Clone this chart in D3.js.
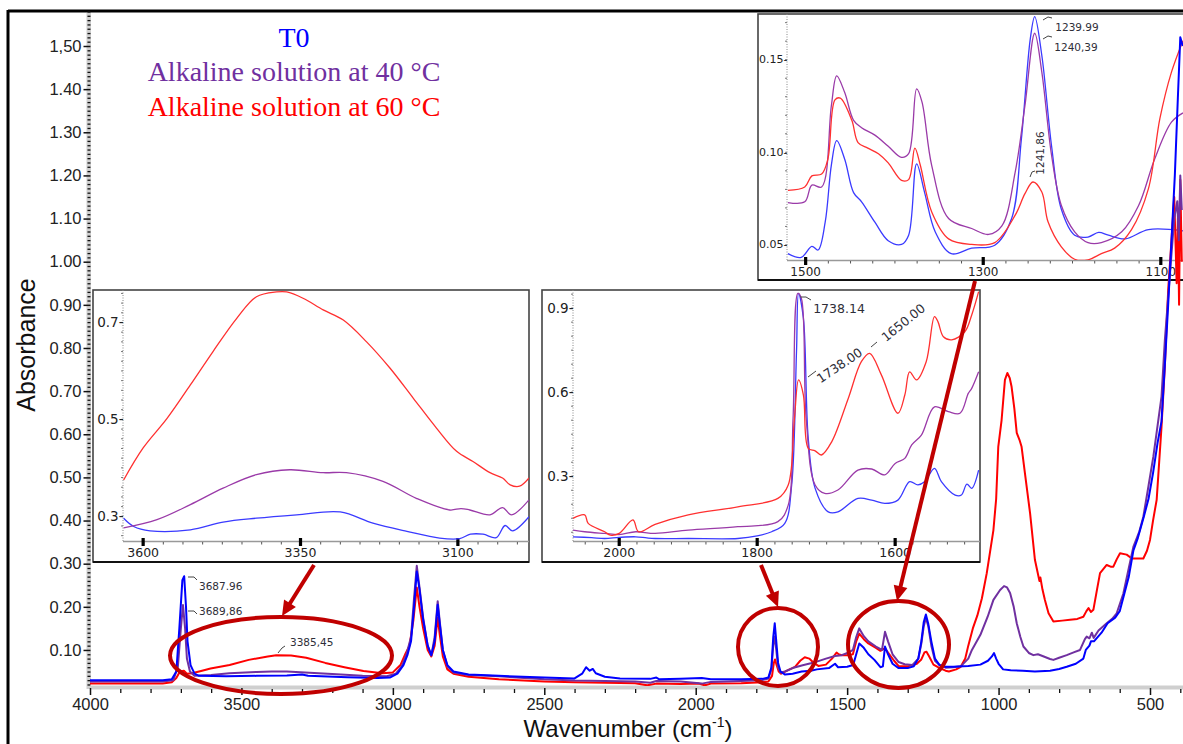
<!DOCTYPE html>
<html>
<head>
<meta charset="utf-8">
<script src="https://cdn.jsdelivr.net/npm/d3@7"></script>
<style>
html,body{margin:0;padding:0;background:#fff;}
svg{display:block;}
</style>
</head>
<body>
<svg id="chart" width="1183" height="744"></svg>
<script>
// ---------------- DATA ----------------
const legendLabels = ["T0", "Alkaline solution at 40 °C", "Alkaline solution at 60 °C"];
const xTickValues = [4000, 3500, 3000, 2500, 2000, 1500, 1000, 500];
const yTickValues = [0.10,0.20,0.30,0.40,0.50,0.60,0.70,0.80,0.90,1.00,1.10,1.20,1.30,1.40,1.50];
const yTickLabels = ["0.10","0.20","0.30","0.40","0.50","0.60","0.70","0.80","0.90","1.00","1.10","1.20","1.30","1.40","1,50"];

// main spectra [wavenumber, absorbance]
const mainT0 = [[4000,0.030],[3760,0.030],[3730,0.032],[3715,0.05],[3705,0.15],[3695,0.262],[3689,0.271],[3683,0.2],[3678,0.12],[3668,0.065],[3655,0.045],[3640,0.040],[3550,0.039],[3450,0.040],[3350,0.041],[3300,0.043],[3280,0.040],[3150,0.037],[3050,0.035],[3010,0.036],[2985,0.045],[2965,0.065],[2952,0.088],[2940,0.12],[2930,0.2],[2921,0.282],[2912,0.24],[2900,0.17],[2885,0.11],[2873,0.088],[2862,0.12],[2852,0.205],[2845,0.16],[2835,0.1],[2820,0.065],[2800,0.05],[2750,0.043],[2650,0.04],[2500,0.036],[2400,0.034],[2375,0.045],[2362,0.06],[2350,0.052],[2340,0.056],[2330,0.046],[2300,0.038],[2250,0.034],[2150,0.033],[2130,0.036],[2120,0.032],[2050,0.033],[1980,0.035],[1950,0.032],[1850,0.032],[1780,0.033],[1760,0.036],[1750,0.06],[1744,0.13],[1739,0.162],[1734,0.12],[1728,0.07],[1720,0.05],[1705,0.043],[1680,0.045],[1650,0.05],[1620,0.052],[1600,0.055],[1560,0.058],[1540,0.068],[1530,0.06],[1500,0.061],[1480,0.065],[1470,0.09],[1460,0.115],[1445,0.105],[1430,0.09],[1410,0.077],[1390,0.06],[1382,0.062],[1375,0.108],[1365,0.09],[1350,0.068],[1330,0.058],[1300,0.058],[1280,0.062],[1265,0.08],[1255,0.12],[1247,0.165],[1240,0.182],[1232,0.16],[1222,0.12],[1210,0.08],[1195,0.065],[1175,0.061],[1150,0.061],[1100,0.063],[1060,0.066],[1035,0.075],[1022,0.085],[1015,0.093],[1008,0.08],[1000,0.068],[985,0.055],[960,0.053],[920,0.052],[880,0.05],[830,0.052],[800,0.056],[775,0.061],[745,0.068],[720,0.08],[712,0.1],[700,0.11],[695,0.12],[685,0.12],[660,0.14],[640,0.162],[615,0.175],[600,0.19],[585,0.23],[570,0.27],[555,0.33],[540,0.36],[520,0.41],[505,0.45],[490,0.51],[475,0.58],[462,0.63],[451,0.76],[440,0.9],[429,1.05],[418,1.2],[408,1.38],[400,1.52],[392,1.5]];

const main40 = [[4000,0.027],[3760,0.027],[3725,0.03],[3710,0.06],[3700,0.15],[3693,0.204],[3686,0.15],[3680,0.08],[3670,0.05],[3655,0.04],[3600,0.042],[3540,0.046],[3450,0.049],[3400,0.05],[3350,0.05],[3290,0.048],[3200,0.044],[3100,0.04],[3020,0.039],[2990,0.045],[2970,0.063],[2955,0.09],[2940,0.13],[2930,0.22],[2921,0.295],[2912,0.245],[2900,0.175],[2885,0.11],[2873,0.087],[2862,0.13],[2852,0.213],[2845,0.165],[2835,0.1],[2820,0.062],[2800,0.048],[2750,0.042],[2650,0.039],[2500,0.032],[2400,0.029],[2300,0.028],[2200,0.027],[2150,0.024],[2130,0.028],[2050,0.027],[1980,0.022],[1950,0.026],[1850,0.028],[1780,0.03],[1760,0.034],[1750,0.055],[1744,0.11],[1739,0.131],[1734,0.1],[1728,0.06],[1720,0.048],[1705,0.05],[1680,0.058],[1650,0.064],[1620,0.069],[1600,0.073],[1570,0.08],[1540,0.086],[1518,0.088],[1495,0.094],[1481,0.1],[1470,0.13],[1460,0.15],[1445,0.132],[1430,0.12],[1405,0.108],[1385,0.1],[1375,0.142],[1365,0.12],[1350,0.09],[1330,0.072],[1310,0.067],[1285,0.065],[1265,0.08],[1255,0.115],[1247,0.155],[1240,0.174],[1232,0.155],[1222,0.11],[1210,0.075],[1195,0.065],[1175,0.059],[1150,0.06],[1125,0.062],[1100,0.08],[1088,0.1],[1060,0.135],[1036,0.177],[1017,0.216],[995,0.239],[982,0.248],[972,0.245],[962,0.232],[950,0.2],[940,0.162],[928,0.13],[918,0.108],[900,0.093],[885,0.088],[870,0.09],[855,0.086],[830,0.079],[819,0.077],[800,0.082],[775,0.088],[750,0.095],[731,0.1],[715,0.125],[709,0.131],[700,0.127],[692,0.14],[686,0.128],[670,0.145],[643,0.162],[625,0.172],[610,0.185],[588,0.231],[570,0.29],[555,0.339],[535,0.375],[522,0.409],[505,0.48],[489,0.548],[475,0.62],[462,0.687],[451,0.818],[434,0.973],[420,1.1],[410,1.14],[405,1.05],[400,1.2],[395,1.12]];

const main60 = [[4000,0.022],[3760,0.022],[3730,0.025],[3715,0.035],[3703,0.05],[3690,0.052],[3680,0.045],[3663,0.046],[3630,0.052],[3602,0.057],[3539,0.065],[3476,0.077],[3413,0.085],[3385,0.088],[3336,0.087],[3286,0.082],[3223,0.07],[3160,0.06],[3097,0.051],[3034,0.046],[3000,0.048],[2975,0.065],[2958,0.092],[2945,0.11],[2932,0.17],[2921,0.245],[2912,0.2],[2900,0.15],[2885,0.1],[2873,0.085],[2862,0.11],[2852,0.175],[2845,0.135],[2835,0.085],[2820,0.055],[2800,0.045],[2750,0.038],[2650,0.032],[2500,0.027],[2400,0.025],[2300,0.024],[2200,0.023],[2160,0.018],[2130,0.022],[2050,0.021],[1990,0.022],[1970,0.018],[1950,0.022],[1850,0.023],[1780,0.025],[1760,0.027],[1748,0.04],[1742,0.07],[1738,0.078],[1733,0.065],[1726,0.05],[1718,0.045],[1705,0.05],[1690,0.055],[1672,0.061],[1655,0.075],[1640,0.083],[1625,0.08],[1610,0.07],[1595,0.063],[1570,0.066],[1550,0.08],[1535,0.094],[1528,0.09],[1518,0.088],[1495,0.088],[1481,0.09],[1470,0.12],[1460,0.138],[1445,0.125],[1430,0.115],[1405,0.105],[1390,0.098],[1375,0.104],[1365,0.094],[1345,0.075],[1329,0.062],[1300,0.062],[1270,0.068],[1255,0.078],[1245,0.094],[1238,0.096],[1230,0.086],[1215,0.066],[1200,0.06],[1175,0.052],[1164,0.05],[1140,0.055],[1125,0.061],[1110,0.08],[1100,0.11],[1085,0.15],[1070,0.18],[1055,0.22],[1039,0.278],[1017,0.378],[1008,0.45],[1001,0.571],[990,0.633],[979,0.726],[971,0.742],[963,0.73],[957,0.71],[948,0.66],[940,0.603],[930,0.585],[924,0.571],[913,0.51],[896,0.417],[880,0.309],[865,0.26],[862,0.268],[855,0.24],[847,0.216],[835,0.185],[819,0.166],[790,0.168],[764,0.17],[740,0.172],[720,0.177],[710,0.19],[703,0.197],[695,0.188],[687,0.193],[675,0.24],[665,0.278],[643,0.297],[630,0.293],[621,0.293],[610,0.31],[599,0.324],[577,0.321],[560,0.312],[544,0.312],[522,0.312],[510,0.33],[500,0.355],[490,0.4],[478,0.448],[462,0.617],[451,0.757],[440,0.934],[429,1.05],[420,1.15],[412,0.95],[408,1.1],[404,0.9],[400,1.19],[395,1.0]];

// inset 1 (3630-2987 cm-1)
const in1T0 = [[3631,0.295],[3615,0.278],[3589,0.269],[3525,0.271],[3473,0.287],[3420,0.295],[3356,0.302],[3287,0.308],[3235,0.285],[3181,0.268],[3129,0.254],[3097,0.253],[3080,0.262],[3060,0.262],[3039,0.255],[3025,0.280],[3013,0.269],[2987,0.298]];
const in140 = [[3631,0.275],[3578,0.292],[3525,0.323],[3473,0.357],[3420,0.385],[3367,0.395],[3314,0.389],[3277,0.389],[3219,0.371],[3166,0.336],[3113,0.312],[3095,0.315],[3081,0.312],[3049,0.302],[3029,0.317],[3015,0.302],[2987,0.333]];
const in160 = [[3631,0.374],[3600,0.440],[3562,0.501],[3525,0.570],[3489,0.639],[3451,0.708],[3420,0.752],[3388,0.762],[3372,0.762],[3346,0.749],[3314,0.725],[3282,0.704],[3245,0.659],[3208,0.605],[3171,0.543],[3134,0.481],[3102,0.433],[3076,0.412],[3049,0.389],[3029,0.378],[3017,0.364],[3002,0.361],[2987,0.378]];

// inset 2 (2067-1477 cm-1)
const in2T0 = [[2067,0.082],[2040,0.079],[2021,0.076],[2000,0.08],[1976,0.082],[1960,0.078],[1948,0.076],[1900,0.076],[1828,0.076],[1800,0.085],[1779,0.1],[1760,0.13],[1750,0.267],[1743,0.743],[1740,0.951],[1733,0.862],[1726,0.434],[1716,0.255],[1697,0.171],[1683,0.171],[1654,0.219],[1634,0.213],[1615,0.201],[1596,0.213],[1579,0.279],[1567,0.267],[1557,0.279],[1543,0.326],[1533,0.279],[1513,0.231],[1504,0.231],[1496,0.270],[1489,0.255],[1479,0.320]];
const in240 = [[2067,0.106],[2050,0.1],[2021,0.094],[2000,0.09],[1976,0.1],[1948,0.094],[1900,0.106],[1828,0.118],[1770,0.136],[1755,0.195],[1748,0.505],[1741,0.951],[1736,0.934],[1729,0.505],[1716,0.267],[1702,0.237],[1683,0.249],[1654,0.320],[1634,0.324],[1615,0.303],[1600,0.344],[1586,0.362],[1576,0.410],[1562,0.445],[1543,0.546],[1523,0.529],[1506,0.523],[1494,0.594],[1489,0.612],[1479,0.671]];
const in260 = [[2067,0.148],[2050,0.160],[2045,0.130],[2021,0.100],[2013,0.088],[2000,0.094],[1980,0.142],[1972,0.100],[1948,0.126],[1900,0.160],[1828,0.189],[1770,0.219],[1755,0.267],[1746,0.505],[1740,0.642],[1733,0.588],[1726,0.398],[1716,0.389],[1707,0.374],[1692,0.421],[1668,0.576],[1649,0.707],[1637,0.737],[1620,0.660],[1596,0.523],[1586,0.588],[1579,0.671],[1569,0.642],[1555,0.707],[1543,0.868],[1538,0.850],[1530,0.796],[1518,0.785],[1499,0.814],[1489,0.874],[1479,0.957]];

// inset 3 (1521-1075 cm-1)
const in3T0 = [[1520,0.045],[1505,0.043],[1493,0.049],[1486,0.047],[1478,0.062],[1471,0.093],[1465,0.106],[1456,0.096],[1446,0.078],[1437,0.073],[1422,0.062],[1407,0.052],[1392,0.050],[1384,0.055],[1375,0.0935],[1366,0.078],[1354,0.0567],[1336,0.045],[1313,0.048],[1287,0.0496],[1268,0.064],[1257,0.107],[1247,0.161],[1242,0.173],[1234,0.152],[1223,0.103],[1212,0.069],[1197,0.055],[1182,0.054],[1170,0.0565],[1159,0.055],[1140,0.053],[1114,0.058],[1075,0.0573]];
const in340 = [[1520,0.0726],[1501,0.073],[1493,0.082],[1482,0.081],[1471,0.125],[1465,0.141],[1456,0.132],[1446,0.117],[1437,0.113],[1422,0.109],[1407,0.103],[1392,0.097],[1384,0.099],[1375,0.134],[1369,0.127],[1358,0.0926],[1339,0.064],[1313,0.0586],[1294,0.0554],[1279,0.060],[1264,0.089],[1253,0.125],[1242,0.164],[1234,0.143],[1223,0.098],[1212,0.071],[1197,0.0568],[1182,0.051],[1167,0.051],[1144,0.0568],[1125,0.071],[1107,0.096],[1088,0.116],[1075,0.121]];
const in360 = [[1520,0.0792],[1501,0.081],[1493,0.087],[1482,0.088],[1475,0.096],[1467,0.128],[1461,0.129],[1448,0.117],[1441,0.105],[1430,0.102],[1418,0.099],[1407,0.094],[1392,0.0846],[1384,0.085],[1377,0.102],[1371,0.093],[1358,0.0675],[1339,0.053],[1313,0.050],[1287,0.051],[1264,0.0658],[1253,0.0774],[1244,0.0837],[1234,0.0783],[1227,0.0622],[1212,0.0487],[1197,0.042],[1182,0.0417],[1167,0.045],[1152,0.048],[1133,0.058],[1114,0.080],[1101,0.118],[1088,0.143],[1075,0.160]];

// ---------------- DRAW ----------------
const svg = d3.select("#chart");
const sans = "'Liberation Sans', Arial, sans-serif";
const tah = "'DejaVu Sans', Verdana, sans-serif";
const C_BLUE = "#0000ff", C_PURP = "#7030a0", C_RED = "#ff0000";
const DARKRED = "#c00000";

svg.append("rect").attr("width",1183).attr("height",744).attr("fill","#fff");

// main scales
const x = d3.scaleLinear().domain([4000, 500]).range([90, 1150]);
const y = d3.scaleLinear().domain([0, 1.5]).range([693.1, 46]);

// frame
svg.append("line").attr("x1",8).attr("x2",8).attr("y1",10).attr("y2",744).attr("stroke","#000").attr("stroke-width",3);
svg.append("line").attr("x1",8).attr("x2",1183).attr("y1",11).attr("y2",11).attr("stroke","#000").attr("stroke-width",3);

// main y axis
svg.append("rect").attr("x",86.5).attr("y",13).attr("width",4.5).attr("height",676).attr("fill","#cfcfcf");
const yMinor = d3.range(2, 159).map(d => d/100).filter(v => Math.round(v*100)%10 !== 0);
svg.append("g").attr("transform","translate(90.5,0)")
  .call(d3.axisLeft(y).tickValues(yMinor).tickSize(3).tickFormat(""))
  .call(g => g.select(".domain").remove())
  .call(g => g.selectAll("line").attr("stroke","#111").attr("stroke-width",1.3));
const yAx = svg.append("g").attr("transform","translate(90.5,0)")
  .call(d3.axisLeft(y).tickValues(yTickValues).tickSize(7).tickPadding(2).tickFormat((d,i)=>yTickLabels[i]));
yAx.select(".domain").remove();
yAx.selectAll("line").attr("stroke","#111").attr("stroke-width",1.5);
yAx.selectAll("text").attr("font-family",sans).attr("font-size",16.5).attr("fill","#222");

// main x axis
svg.append("rect").attr("x",90).attr("y",685.5).attr("width",1093).attr("height",4).attr("fill","#cfcfcf");
const xMinor = d3.range(4000, 390, -100).filter(v => v % 500 !== 0);
svg.append("g").attr("transform","translate(0,689)")
  .call(d3.axisBottom(x).tickValues(xMinor).tickSize(4).tickFormat(""))
  .call(g => g.select(".domain").remove())
  .call(g => g.selectAll("line").attr("stroke","#111").attr("stroke-width",1.3));
const xAx = svg.append("g").attr("transform","translate(0,688)")
  .call(d3.axisBottom(x).tickValues(xTickValues).tickSize(7).tickPadding(3).tickFormat(d3.format("d")));
xAx.select(".domain").remove();
xAx.selectAll("line").attr("stroke","#111").attr("stroke-width",1.5);
xAx.selectAll("text").attr("font-family",sans).attr("font-size",16.5).attr("fill","#222");

// axis titles
svg.append("text").attr("transform","translate(35,345) rotate(-90)").attr("text-anchor","middle")
  .attr("font-family",sans).attr("font-size",25).attr("fill","#111").text("Absorbance");
const xt = svg.append("text").attr("x",628).attr("y",737).attr("text-anchor","middle")
  .attr("font-family",sans).attr("font-size",24).attr("fill","#111");
xt.append("tspan").text("Wavenumber (cm");
xt.append("tspan").attr("font-size",14).attr("dy",-10).text("-1");
xt.append("tspan").attr("dy",10).text(")");

// ---------------- INSETS ----------------
function drawInset(cfg){
  const g = svg.append("g");
  g.append("rect").attr("x",cfg.box[0]).attr("y",cfg.box[1]).attr("width",cfg.box[2]-cfg.box[0]).attr("height",cfg.box[3]-cfg.box[1])
    .attr("fill","#fff").attr("stroke","#444").attr("stroke-width",1.6);
  g.append("line").attr("x1",cfg.box[0]).attr("x2",cfg.box[2]).attr("y1",cfg.box[3]).attr("y2",cfg.box[3]).attr("stroke","#111").attr("stroke-width",2);
  const xs = d3.scaleLinear().domain(cfg.xd).range([cfg.px0, cfg.px1]);
  const ys = d3.scaleLinear().domain(cfg.yd).range([cfg.py1, cfg.py0]);
  const id = "clip" + cfg.name;
  svg.append("clipPath").attr("id",id).append("rect").attr("x",cfg.px0).attr("y",cfg.py0).attr("width",cfg.px1-cfg.px0).attr("height",cfg.py1-cfg.py0);
  // y axis dotted
  g.append("line").attr("x1",cfg.px0).attr("x2",cfg.px0).attr("y1",cfg.py0).attr("y2",cfg.py1)
    .attr("stroke","#888").attr("stroke-width",1).attr("stroke-dasharray","1,1.5");
  // y minor ticks
  const yMin = d3.range(Math.ceil(cfg.yd[0]/cfg.yMinorStep)*cfg.yMinorStep, cfg.yd[1], cfg.yMinorStep);
  g.append("g").attr("transform",`translate(${cfg.px0},0)`)
    .call(d3.axisLeft(ys).tickValues(yMin).tickSize(2).tickFormat(""))
    .call(a => a.select(".domain").remove())
    .call(a => a.selectAll("line").attr("stroke","#777"));
  // x axis line
  g.append("line").attr("x1",cfg.px0).attr("x2",cfg.px1).attr("y1",cfg.py1+0.5).attr("y2",cfg.py1+0.5)
    .attr("stroke","#999").attr("stroke-width",1.5);
  const minor = d3.range(cfg.minorStart, cfg.xd[1]-1, -cfg.minorStep);
  g.append("g").attr("transform",`translate(0,${cfg.py1+1})`)
    .call(d3.axisBottom(xs).tickValues(minor.filter(v=>v<=cfg.xd[0])).tickSize(2.5).tickFormat(""))
    .call(a => a.select(".domain").remove())
    .call(a => a.selectAll("line").attr("stroke","#555"));
  // major ticks as black bars
  g.selectAll(".maj").data(cfg.xt).enter().append("rect")
    .attr("x", d => xs(d)-1.6).attr("y", cfg.py1-3).attr("width",3.2).attr("height",8).attr("fill","#000");
  g.selectAll(".xl").data(cfg.xt).enter().append("text")
    .attr("x", d => xs(d)).attr("y", cfg.py1+16).attr("text-anchor","middle")
    .attr("font-family",tah).attr("font-size",cfg.xfs).attr("fill","#222").text(d => d);
  g.selectAll(".yl").data(cfg.yt).enter().append("text")
    .attr("x", cfg.px0+0.5).attr("y", d => ys(d)).attr("dy","0.36em").attr("text-anchor","end")
    .attr("font-family",tah).attr("font-size",cfg.yfs).attr("fill","#222").text((d,i)=>cfg.ytl[i]+"-");
  const line = d3.line().x(d => xs(d[0])).y(d => ys(d[1])).curve(d3.curveCatmullRom.alpha(0.5));
  const lg = g.append("g").attr("clip-path",`url(#${id})`);
  cfg.series.forEach(s => {
    lg.append("path").attr("d", line(s.data)).attr("fill","none").attr("stroke", s.color).attr("stroke-width",1.3).attr("stroke-linejoin","round");
  });
  return {g, xs, ys};
}

const inset1 = drawInset({name:"i1", box:[93,290,529,562], px0:123, px1:529, py0:290, py1:541,
  xd:[3632,2987], yd:[0.248,0.766], xt:[3600,3350,3100], yt:[0.7,0.5,0.3], ytl:["0.7","0.5","0.3"],
  minorStart:3600, minorStep:31.25, yMinorStep:0.02, xfs:12.5, yfs:13.5,
  series:[{data:in1T0,color:"#3a3aff"},{data:in140,color:"#9a3aa8"},{data:in160,color:"#ff3030"}]});

const inset2 = drawInset({name:"i2", box:[542,290,980,562], px0:573, px1:980, py0:290, py1:541,
  xd:[2067,1477], yd:[0.067,0.963], xt:[2000,1800,1600], yt:[0.9,0.6,0.3], ytl:["0.9","0.6","0.3"],
  minorStart:2050, minorStep:25, yMinorStep:0.05, xfs:12.5, yfs:13.5,
  series:[{data:in2T0,color:"#3a3aff"},{data:in240,color:"#9a3aa8"},{data:in260,color:"#ff3030"}]});

const inset3 = drawInset({name:"i3", box:[758,14,1195,280], px0:787, px1:1183, py0:14, py1:260,
  xd:[1521,1075], yd:[0.0416,0.1744], xt:[1500,1300,1100], yt:[0.15,0.10,0.05], ytl:["0.15","0.10","0.05"],
  minorStart:1500, minorStep:25, yMinorStep:0.01, xfs:12, yfs:11,
  series:[{data:in3T0,color:"#3a3aff"},{data:in340,color:"#9a3aa8"},{data:in360,color:"#ff3030"}]});

// inset annotations
function note(g, txt, tx, ty, rot, fs, leader){
  g.append("text").attr("transform",`translate(${tx},${ty}) rotate(${rot})`).attr("text-anchor","middle")
    .attr("font-family",tah).attr("font-size",fs).attr("fill","#2e2e38").text(txt);
  if (leader) g.append("path").attr("d",leader).attr("fill","none").attr("stroke","#444").attr("stroke-width",1);
}
note(inset2.g, "1738.14", 839, 313, 0, 12.5, "M800,297 L806,297 L811,300");
note(inset2.g, "1738.00", 842, 369, -34, 12.5, "M808,377 L816,371");
note(inset2.g, "1650.00", 906, 326, -39, 12.5, "M871,347 L877,342");
note(inset3.g, "1239.99", 1077, 31, 0, 10.5, "M1043,20 L1048,17 L1052,18");
note(inset3.g, "1240,39", 1076, 51, 0, 10.5, "M1043,39 L1048,36 L1052,37");
note(inset3.g, "1241,86", 1044, 153, -90, 10.5, "M1030,177 L1032,172 L1035,171");

// ---------------- MAIN CURVES ----------------
svg.append("clipPath").attr("id","mainclip").append("rect").attr("x",90).attr("y",13).attr("width",1093).attr("height",673);
const mline = d3.line().x(d => x(d[0])).y(d => y(d[1]));
const mg = svg.append("g").attr("clip-path","url(#mainclip)");
[[main60,C_RED],[main40,C_PURP],[mainT0,C_BLUE]].forEach(([d,c]) => {
  mg.append("path").attr("d", mline(d)).attr("fill","none").attr("stroke",c).attr("stroke-width",2).attr("stroke-linejoin","round");
});

// main annotations
function mnote(txt, tx, ty, leader){
  svg.append("text").attr("x",tx).attr("y",ty).attr("font-family",tah).attr("font-size",10.5).attr("fill","#2e2e38").text(txt);
  svg.append("path").attr("d",leader).attr("fill","none").attr("stroke","#444").attr("stroke-width",1);
}
mnote("3687.96", 199, 590, "M188,577 L194,577 L197,580");
mnote("3689,86", 199, 615, "M188,611 L194,611 L197,614");
mnote("3385,45", 290, 646, "M278,653 L282,648 L285,646");

// ---------------- ELLIPSES & ARROWS ----------------
const ell = [{cx:281,cy:655.5,rx:111,ry:38.5},{cx:778,cy:647,rx:40,ry:39},{cx:898.5,cy:644.5,rx:50.5,ry:43.5}];
svg.selectAll(".ell").data(ell).enter().append("ellipse")
  .attr("cx",d=>d.cx).attr("cy",d=>d.cy).attr("rx",d=>d.rx).attr("ry",d=>d.ry)
  .attr("fill","none").attr("stroke",DARKRED).attr("stroke-width",4);

const arrows = [[314,565,282,616],[761,565,778,607],[975,281,897,601]];
arrows.forEach(([x1,y1,x2,y2]) => {
  const dx = x2-x1, dy = y2-y1, L = Math.hypot(dx,dy), ux = dx/L, uy = dy/L;
  const hl = 15, hw = 7;
  const bx = x2 - ux*hl, by = y2 - uy*hl;
  svg.append("line").attr("x1",x1).attr("y1",y1).attr("x2",bx+ux*2).attr("y2",by+uy*2)
    .attr("stroke",DARKRED).attr("stroke-width",4);
  svg.append("path").attr("d",`M${x2},${y2} L${bx-uy*hw},${by+ux*hw} L${bx+uy*hw},${by-ux*hw} Z`).attr("fill",DARKRED);
});

// ---------------- LEGEND ----------------
const legColors = [C_BLUE, C_PURP, C_RED];
const legY = [47, 81, 116];
svg.selectAll(".leg").data(legendLabels).enter().append("text")
  .attr("x",294).attr("y",(d,i)=>legY[i]).attr("text-anchor","middle")
  .attr("font-family","'Liberation Serif', 'Times New Roman', serif").attr("font-size",28)
  .attr("fill",(d,i)=>legColors[i]).text(d=>d);
</script>
</body>
</html>
